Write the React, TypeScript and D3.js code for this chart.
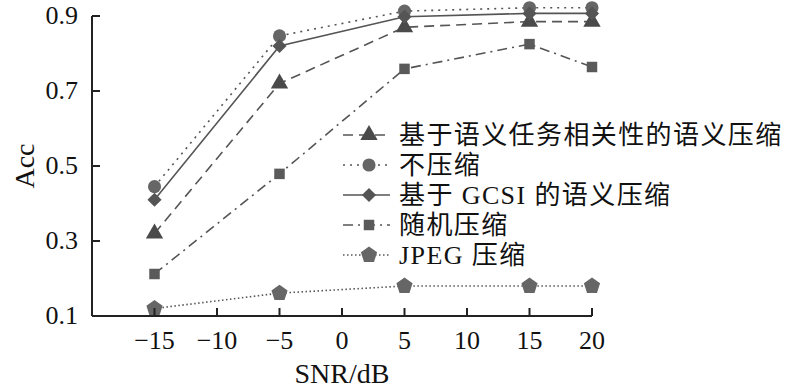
import * as d3 from "d3";

const snr = [-15, -5, 5, 15, 20];
const xTicks = [-15, -10, -5, 0, 5, 10, 15, 20];
const yTicks = [0.1, 0.3, 0.5, 0.7, 0.9];

const semanticTask = [0.32, 0.72, 0.87, 0.885, 0.885];
const noCompress = [0.445, 0.847, 0.913, 0.922, 0.922];
const gcsi = [0.41, 0.82, 0.898, 0.907, 0.907];
const randomCompress = [0.212, 0.479, 0.759, 0.825, 0.764];
const jpeg = [0.12, 0.161, 0.18, 0.18, 0.18];

const labels = [
  "基于语义任务相关性的语义压缩",
  "不压缩",
  "基于 GCSI 的语义压缩",
  "随机压缩",
  "JPEG 压缩",
];

const width = 800;
const height = 390;

const x = d3.scaleLinear().domain([-20, 20]).range([92, 592]);
const y = d3.scaleLinear().domain([0.1, 0.9]).range([316, 16]);

const pentagon = (r: number) => {
  const pts: [number, number][] = d3.range(5).map((i) => {
    const a = -Math.PI / 2 + (i * 2 * Math.PI) / 5;
    return [r * Math.cos(a), r * Math.sin(a)];
  });
  return d3.line()(pts) + "Z";
};

const markers: Record<string, string> = {
  triangle: d3.symbol(d3.symbolTriangle, 130)() as string,
  circle: d3.symbol(d3.symbolCircle, 135)() as string,
  diamond: d3.symbol(d3.symbolSquare, 100)() as string,
  square: d3.symbol(d3.symbolSquare, 110)() as string,
  pentagon: pentagon(8.5),
};

const series = [
  { name: labels[0], values: semanticTask, marker: "triangle", dash: "10,6", fill: "#4a4a4a" },
  { name: labels[1], values: noCompress, marker: "circle", dash: "2,5", fill: "#666" },
  { name: labels[2], values: gcsi, marker: "diamond", dash: "", fill: "#555" },
  { name: labels[3], values: randomCompress, marker: "square", dash: "10,5,2,5", fill: "#5a5a5a" },
  { name: labels[4], values: jpeg, marker: "pentagon", dash: "1.5,2.5", fill: "#666" },
];

const serif = "'Liberation Serif', 'Times New Roman', serif";
const cjk = "'Liberation Serif', 'Noto Sans CJK SC', serif";

export default function App() {
  const line = d3.line<[number, number]>().x((d) => x(d[0])).y((d) => y(d[1]));

  return (
    <svg
      width={width}
      height={height}
      style={{ position: "absolute", left: 0, top: 0, background: "#fff" }}
    >
      {/* series */}
      {series.map((s) => (
        <g key={s.name}>
          <path
            d={line(snr.map((v, i) => [v, s.values[i]] as [number, number])) as string}
            fill="none"
            stroke="#555"
            strokeWidth={1.6}
            strokeDasharray={s.dash || undefined}
          />
          {snr.map((v, i) => (
            <path
              key={i}
              d={markers[s.marker]}
              transform={`translate(${x(v)},${y(s.values[i])})${s.marker === "diamond" ? " rotate(45)" : ""}`}
              fill={s.fill}
            />
          ))}
        </g>
      ))}

      {/* axes */}
      <g stroke="#222" strokeWidth={2} fill="none">
        <line x1={x(-20)} x2={x(20)} y1={y(0.1)} y2={y(0.1)} />
        <line x1={x(-20)} x2={x(-20)} y1={y(0.1)} y2={y(0.9)} />
        {xTicks.map((t) => (
          <line key={t} x1={x(t)} x2={x(t)} y1={y(0.1)} y2={y(0.1) - 8} />
        ))}
        {yTicks.map((t) => (
          <line key={t} x1={x(-20)} x2={x(-20) + 8} y1={y(t)} y2={y(t)} />
        ))}
      </g>
      <g fontFamily={serif} fontSize={26} fill="#111">
        {xTicks.map((t) => (
          <text key={t} x={x(t)} y={y(0.1) + 33} textAnchor="middle">
            {t < 0 ? "\u2212" + Math.abs(t) : t}
          </text>
        ))}
        {yTicks.map((t) => (
          <text key={t} x={x(-20) - 14} y={y(t) + 8} textAnchor="end">
            {t.toFixed(1)}
          </text>
        ))}
        <text x={342} y={383} textAnchor="middle" fontSize={28}>SNR/dB</text>
        <text transform={`translate(34,${y(0.5)}) rotate(-90)`} textAnchor="middle" fontSize={28}>
          Acc
        </text>
      </g>

      {/* legend */}
      <g fontFamily={cjk} fontSize={26} letterSpacing={1.4} fill="#111">
        {series.map((s, i) => {
          const cy = 135 + i * 30;
          return (
            <g key={s.name}>
              <line
                x1={343}
                x2={390}
                y1={cy}
                y2={cy}
                stroke="#555"
                strokeWidth={1.6}
                strokeDasharray={s.dash || undefined}
              />
              <path
                d={markers[s.marker]}
                transform={`translate(369,${cy})${s.marker === "diamond" ? " rotate(45)" : ""}`}
                fill={s.fill}
              />
              <text x={399} y={cy + 9}>{s.name}</text>
            </g>
          );
        })}
      </g>
    </svg>
  );
}
